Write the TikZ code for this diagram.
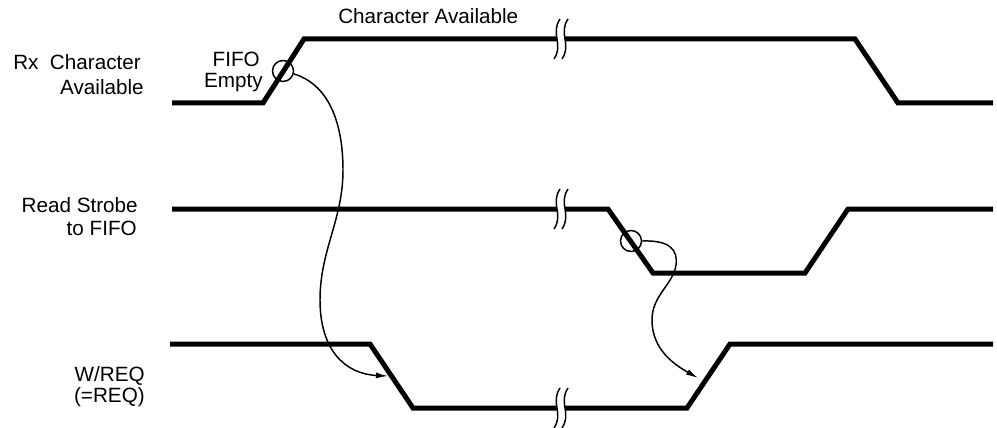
\documentclass[tikz,border=0pt]{standalone}
\usepackage{fontspec}
\setmainfont{Liberation Sans}
\usetikzlibrary{arrows.meta}
\tikzset{
  sig/.style={line width=3.75pt, line join=miter},
  thin/.style={line width=1.1pt},
  lbl/.style={inner sep=0pt, font=\fontsize{15.5}{18}\selectfont},
  ring/.style={draw, circle, thin, minimum size=15.75pt, inner sep=0pt},
  cause/.style={thin, -{Latex[length=9pt,width=4.5pt]}},
  brk/.pic={
    \fill[white] (-1,-20) .. controls (-11,-5) and (3,5) .. (-7,20) -- (1,20)
      .. controls (11,5) and (-3,-5) .. (7,-20) -- cycle;
    \draw[line width=1.1pt] (-1,-20) .. controls (-11,-5) and (3,5) .. (-7,20);
    \draw[line width=1.1pt] (7,-20) .. controls (-3,-5) and (11,5) .. (1,20);
  }
}
\begin{document}
\begin{tikzpicture}[x=0.75pt,y=-0.75pt]
\useasboundingbox (0,0) rectangle (997,428);
% signals
\draw[sig] (172,103) -- (263,103) -- (304,39) -- (855,39) -- (898,103) -- (993,103);
\draw[sig] (172,209) -- (608,209) -- (653,273) -- (805,273) -- (848,209) -- (993,209);
\draw[sig] (170,344) -- (370,344) -- (413,408) -- (687,408) -- (730,344) -- (993,344);
% breaks
\pic at (561,39) {brk};
\pic at (561,209) {brk};
\pic at (561,408) {brk};
% labels
\node[lbl, anchor=base east] (rx1) at (141,70) {Rx\ \ Character};
\node[lbl, anchor=base east] (rx2) at (144,94) {Available};
\node[lbl, anchor=base east] (rs1) at (138,212) {Read Strobe};
\node[lbl, anchor=base east] (rs2) at (137,235) {to FIFO};
\node[lbl, anchor=base east] (wr1) at (145,381) {W/REQ};
\node[lbl, anchor=base east] (wr2) at (145,402) {(=REQ)};
\node[lbl, anchor=base east] (fe1) at (260,67) {FIFO};
\node[lbl, anchor=base east] (fe2) at (263,88) {Empty};
\node[lbl, anchor=base west] (ca) at (338,24) {Character Available};
% circles
\node[ring] (c1) at (283,71) {};
\node[ring] (c2) at (631,241) {};
\coordinate (t1) at (388,376);
\coordinate (t2) at (698,378);
% causal arrows
\draw[cause] (c1.-15) .. controls (330,85) and (343,125) .. (343,170)
  .. controls (343,220) and (320,250) .. (320,300)
  .. controls (320,350) and (345,374) .. (t1);
\draw[cause] (c2.0) .. controls (670,240) and (678,250) .. (676,265)
  .. controls (673,285) and (652,295) .. (652,320)
  .. controls (652,350) and (675,365) .. (t2);
\end{tikzpicture}
\end{document}
